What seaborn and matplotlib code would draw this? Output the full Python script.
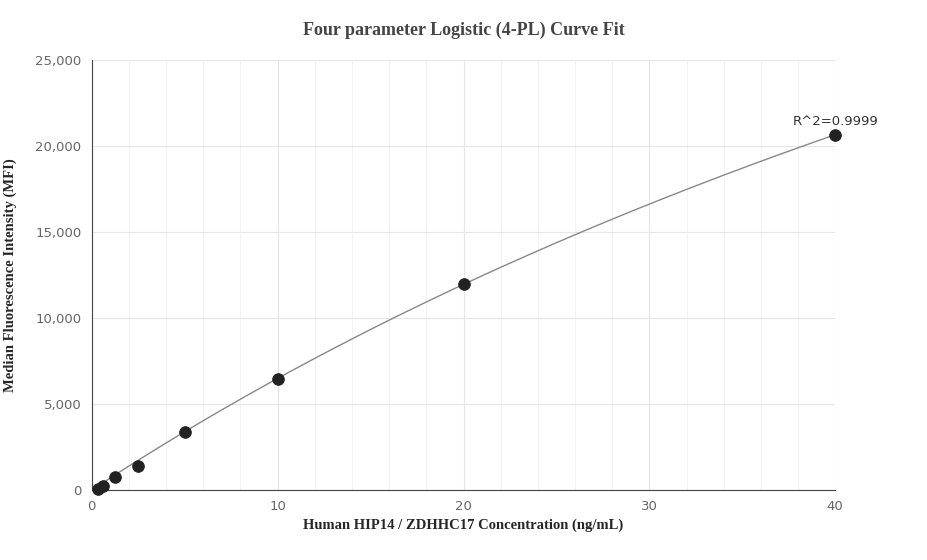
import matplotlib
matplotlib.use("Agg")
import matplotlib.pyplot as plt
import matplotlib.ticker as mticker
import seaborn as sns
import numpy as np

# standards (ng/mL) and measured MFI
conc = [0.3125, 0.625, 1.25, 2.5, 5, 10, 20, 40]
mfi = [30, 250, 750, 1400, 3350, 6450, 11950, 20650]

# 4-PL fit parameters (a=min, b=slope, c=EC50, d=max)
fit_a, fit_b, fit_c, fit_d = 0.0, 1.0, 107.0, 75900.0
r2_label = "R^2=0.9999"

sns.set_style("white")
fig, ax = plt.subplots(figsize=(9.27, 5.6), dpi=100)
fig.subplots_adjust(left=0.099, right=0.901, top=0.893, bottom=0.125)

xs = np.linspace(min(conc), max(conc), 300)
ys = fit_d + (fit_a - fit_d) / (1 + (xs / fit_c) ** fit_b)
sns.lineplot(x=xs, y=ys, ax=ax, color="#888888", linewidth=1)
sns.scatterplot(x=conc, y=mfi, ax=ax, color="#222222", s=70, edgecolor="#222222",
                zorder=5, clip_on=False)

ax.annotate(r2_label, (conc[-1], mfi[-1]), xytext=(0, 5), textcoords="offset points",
            ha="center", va="bottom", fontsize=9.5, color="#333333")

ax.set_xlim(0, 40)
ax.set_ylim(0, 25000)
ax.xaxis.set_major_locator(mticker.MultipleLocator(10))
ax.xaxis.set_minor_locator(mticker.MultipleLocator(2))
ax.yaxis.set_major_locator(mticker.MultipleLocator(5000))
ax.yaxis.set_major_formatter(mticker.FuncFormatter(lambda v, p: f"{int(v):,}"))
ax.grid(True, which="major", color="#e6e6e6", linewidth=0.8)
ax.grid(True, which="minor", axis="x", color="#f3f3f3", linewidth=0.8)
ax.set_axisbelow(True)
for s in ["top", "right"]:
    ax.spines[s].set_visible(False)
for s in ["left", "bottom"]:
    ax.spines[s].set_color("#444444")
ax.tick_params(axis="both", which="major", labelsize=9.5, labelcolor="#666666",
               length=4, color="#444444")
ax.tick_params(axis="both", which="minor", length=0)

ax.set_title("Four parameter Logistic (4-PL) Curve Fit", fontfamily="Liberation Serif",
             fontweight="bold", fontsize=13, color="#444444", pad=18)
ax.set_xlabel("Human HIP14 / ZDHHC17 Concentration (ng/mL)", fontfamily="Liberation Serif",
              fontweight="bold", fontsize=10.5)
ax.set_ylabel("Median Fluorescence Intensity (MFI)", fontfamily="Liberation Serif",
              fontweight="bold", fontsize=10.5)
ax.yaxis.set_label_coords(-0.1, 0.5)

fig.savefig("out.png")
